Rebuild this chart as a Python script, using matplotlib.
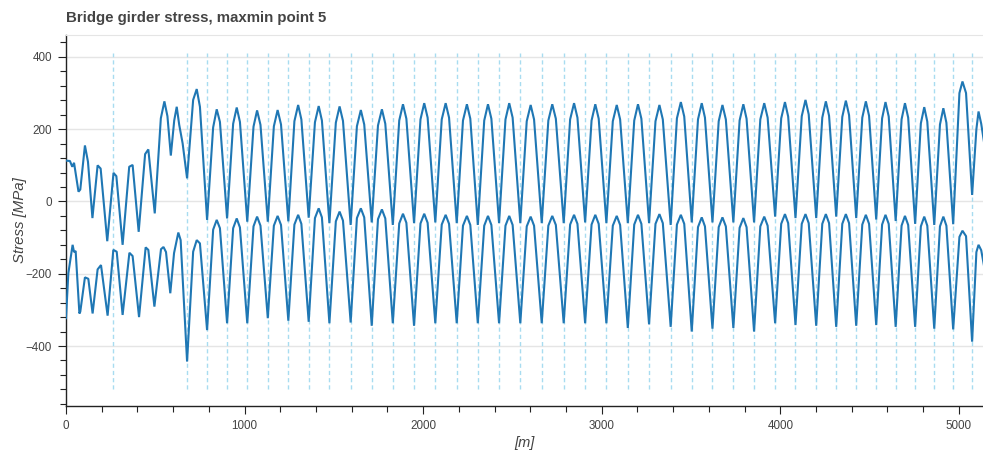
import matplotlib
matplotlib.use("Agg")
import matplotlib.pyplot as plt
from matplotlib.ticker import MultipleLocator

plt.rcParams['font.family'] = ['Liberation Sans', 'DejaVu Sans']

# pier positions [m], drawn as dashed markers
piers = [263, 678, 790, 902, 1015, 1130, 1245, 1359, 1475, 1594, 1712, 1830,
         1949, 2068, 2188, 2306, 2425, 2544, 2664, 2787, 2907, 3026, 3146,
         3265, 3386, 3504, 3620, 3737, 3853, 3971, 4085, 4201, 4313, 4425,
         4537, 4646, 4755, 4862, 4968, 5074]

# first part of the bridge (before the regular spans)
x_head_max = [0, 22, 35, 45, 70, 80, 106, 123, 148, 177, 194, 231, 266, 282,
              317, 354, 373, 407, 443, 461, 497, 531, 551, 568, 587, 606, 620,
              634, 653]
s_head_max = [113, 112, 96, 107, 27, 33, 155, 110, -46, 100, 91, -110, 79, 70,
              -120, 96, 101, -84, 131, 144, -33, 230, 277, 236, 127, 224, 262,
              212, 161]
x_head_min = [0, 13, 37, 45, 54, 75, 80, 106, 125, 149, 177, 196, 233, 265,
              284, 317, 355, 373, 409, 446, 461, 495, 532, 546, 560, 584, 605,
              629, 642]
s_head_min = [-323, -199, -120, -140, -137, -310, -305, -210, -214, -310, -188,
              -176, -316, -134, -139, -314, -142, -151, -320, -127, -134, -291,
              -132, -126, -140, -254, -143, -86, -107]

# regular spans: stations and stresses
x_spans = [678, 712, 732, 750, 790, 824, 844, 862, 902, 936, 956, 974,
           1015, 1050, 1070, 1089, 1130, 1164, 1185, 1204, 1245, 1279, 1300, 1318,
           1359, 1394, 1415, 1433, 1475, 1511, 1532, 1551, 1594, 1629, 1651, 1670,
           1712, 1747, 1769, 1788, 1830, 1866, 1887, 1906, 1949, 1985, 2006, 2025,
           2068, 2104, 2126, 2145, 2188, 2223, 2245, 2264, 2306, 2342, 2363, 2382,
           2425, 2461, 2482, 2501, 2544, 2580, 2602, 2621, 2664, 2701, 2723, 2743,
           2787, 2823, 2845, 2864, 2907, 2943, 2964, 2983, 3026, 3062, 3084, 3103,
           3146, 3182, 3203, 3222, 3265, 3301, 3323, 3342, 3386, 3421, 3443, 3462,
           3504, 3539, 3560, 3578, 3620, 3655, 3676, 3695, 3737, 3772, 3793, 3811,
           3853, 3888, 3910, 3929, 3971, 4005, 4026, 4044, 4085, 4120, 4141, 4159,
           4201, 4235, 4255, 4273, 4313, 4347, 4367, 4385, 4425, 4459, 4479, 4497,
           4537, 4570, 4589, 4607, 4646, 4679, 4698, 4716, 4755, 4787, 4806, 4823,
           4862, 4894, 4913, 4930, 4968, 5003, 5020, 5040,
           5074, 5098, 5110, 5125, 5145]
s_spans_max = [64, 281, 311, 262, -51, 205, 255, 220, -47, 215, 260, 220,
               -56, 207, 252, 212, -56, 208, 253, 213, -55, 222, 267, 227,
               -45, 219, 264, 224, -60, 218, 263, 223, -65, 208, 253, 213,
               -58, 210, 255, 215, -65, 224, 269, 229, -60, 227, 272, 232,
               -58, 227, 272, 232, -60, 224, 269, 229, -65, 224, 269, 229,
               -60, 227, 272, 232, -60, 222, 267, 227, -60, 224, 269, 229,
               -60, 227, 272, 232, -58, 224, 269, 229, -60, 222, 267, 227,
               -60, 224, 269, 229, -60, 222, 267, 227, -65, 230, 275, 235,
               -58, 227, 272, 232, -58, 222, 267, 227, -58, 224, 269, 229,
               -58, 227, 272, 232, -42, 230, 275, 235, -46, 236, 281, 241,
               -46, 232, 277, 237, -42, 234, 279, 239, -46, 232, 277, 237,
               -50, 230, 275, 235, -54, 227, 272, 232, -62, 216, 261, 221,
               -65, 213, 258, 218, -63, 300, 332, 300,
               18, 200, 249, 215, 150]
s_spans_min = [-443, -139, -107, -116, -356, -78, -51, -74, -337, -74, -47, -72,
               -337, -69, -42, -67, -323, -67, -40, -65, -330, -64, -37, -62,
               -333, -46, -19, -44, -337, -55, -28, -53, -335, -46, -19, -44,
               -344, -49, -22, -47, -337, -61, -34, -59, -344, -61, -34, -59,
               -337, -64, -37, -62, -337, -67, -40, -65, -337, -67, -40, -65,
               -337, -67, -40, -65, -337, -69, -42, -67, -337, -67, -40, -65,
               -337, -64, -37, -62, -337, -64, -37, -62, -337, -67, -40, -65,
               -350, -64, -37, -62, -340, -62, -35, -60, -347, -64, -37, -62,
               -360, -71, -44, -69, -352, -71, -44, -69, -350, -73, -46, -71,
               -360, -69, -42, -67, -337, -62, -35, -60, -342, -62, -35, -60,
               -344, -62, -35, -60, -347, -62, -35, -60, -344, -64, -37, -62,
               -342, -64, -37, -62, -347, -67, -40, -65, -347, -69, -42, -67,
               -352, -69, -42, -67, -354, -98, -81, -96,
               -388, -140, -120, -135, -190]

x_max = x_head_max + x_spans
s_max = s_head_max + s_spans_max
x_min = x_head_min + x_spans
s_min = s_head_min + s_spans_min

fig = plt.figure(figsize=(9.83, 4.53), dpi=100)
ax = fig.add_axes([66 / 983, 1 - 406 / 453, 1 - 66 / 983, (406 - 34.5) / 453])

ax.vlines(piers, -520, 410, colors='#a8dcf0', linestyles=(0, (3, 2.2)),
          linewidth=1, zorder=1)
ax.plot(x_max, s_max, color='#1f77b4', lw=1.5, solid_joinstyle='bevel', zorder=3)
ax.plot(x_min, s_min, color='#1f77b4', lw=1.5, solid_joinstyle='bevel', zorder=3)

ax.set_xlim(0, 5135)
ax.set_ylim(-566, 462)
ax.xaxis.set_major_locator(MultipleLocator(1000))
ax.xaxis.set_minor_locator(MultipleLocator(200))
ax.yaxis.set_major_locator(MultipleLocator(200))
ax.yaxis.set_minor_locator(MultipleLocator(40))
ax.grid(axis='y', color='#e5e5e5', lw=1, zorder=0)
ax.set_axisbelow(True)

for side in ['left', 'bottom']:
    ax.spines[side].set_color('#222222')
    ax.spines[side].set_linewidth(1)
ax.spines['top'].set_color('#e5e5e5')
ax.spines['right'].set_visible(False)

ax.tick_params(which='major', direction='out', length=6, width=0.8,
               color='#222222', labelsize=8.4, labelcolor='#444444', pad=4)
ax.tick_params(which='minor', direction='out', length=4, width=0.8,
               color='#222222')

ax.set_xlabel('[m]', style='italic', fontsize=10.5, color='#444444', labelpad=3)
ax.set_ylabel('Stress [MPa]', style='italic', fontsize=10.8, color='#444444',
              labelpad=-1)
ax.set_title('Bridge girder stress, maxmin point 5', loc='left',
             fontweight='bold', fontsize=10.8, color='#444444', pad=9)

fig.savefig('out.png', dpi=100)
